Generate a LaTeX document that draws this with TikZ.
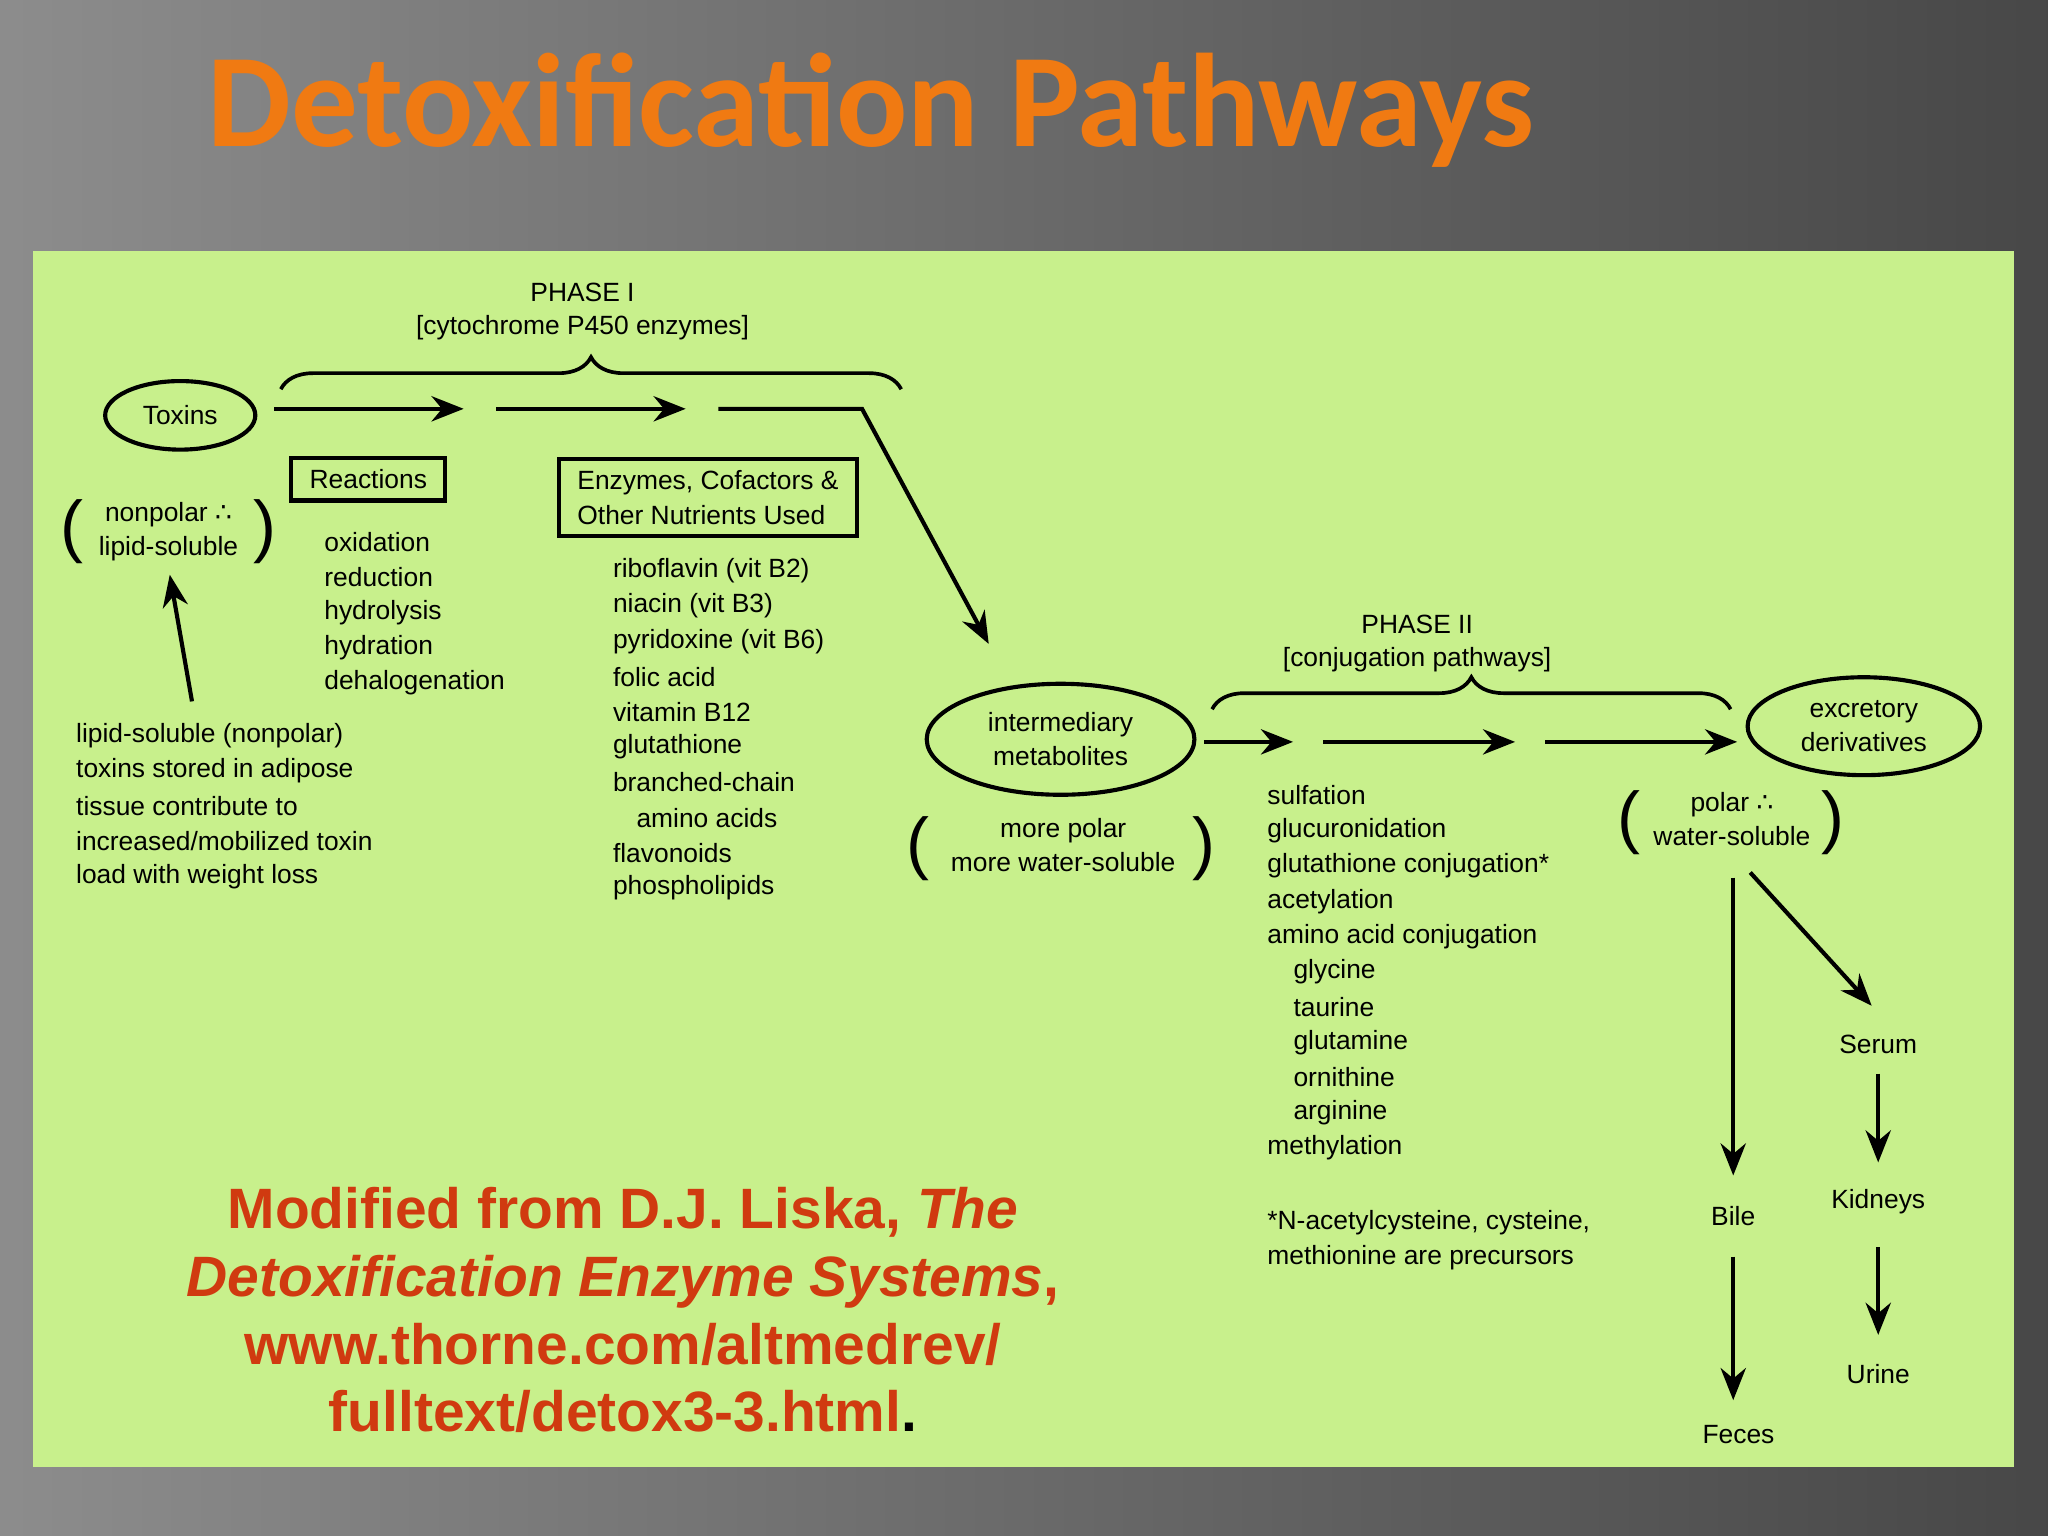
\documentclass[tikz,border=0pt]{standalone}
\usepackage{fontspec}
\setmainfont{Liberation Sans}
\newfontfamily\titlefont{Carlito}
\newfontfamily\symfont{DejaVu Sans}
\usetikzlibrary{arrows.meta,decorations.pathreplacing,shapes.geometric}
\definecolor{panel}{HTML}{C8F08C}
\definecolor{cite}{HTML}{D03A10}
\definecolor{ttl}{HTML}{F07A12}
\newcommand{\thrf}{{\symfont ∴}}
\tikzset{
  x=0.02cm,y=-0.02cm,
  txt/.style={font=\fontsize{11.5}{15}\selectfont,inner sep=0pt},
  lft/.style={txt,anchor=west},
  arr/.style={line width=1.8pt,-{Stealth[length=14pt,width=11pt]}},
  ell/.style={draw,ellipse,line width=1.8pt,inner sep=1pt,align=center,font=\fontsize{11.5}{15}\selectfont},
  boxn/.style={draw,line width=1.8pt,inner xsep=8pt,inner ysep=5pt,align=left,font=\fontsize{11.5}{15}\selectfont},
  par/.style={font=\fontsize{30}{30}\selectfont,inner sep=0pt},
  brc/.style={decorate,decoration={brace,amplitude=14pt},line width=1.6pt},
}
\begin{document}
\begin{tikzpicture}
\useasboundingbox (0,0) rectangle (1568,1176);
\shade[left color=black!45,right color=black!72] (0,0) rectangle (1568,1176);
\fill[panel] (25,192) rectangle (1542,1123);
\node[font=\titlefont\bfseries\fontsize{58}{58}\selectfont,text=ttl] (title) at (667,84) {Detoxification Pathways};

% Phase I
\node[txt] (ph1) at (446,224) {PHASE I};
\node[txt] (ph1b) at (446,251) {[cytochrome P450 enzymes]};
\draw[brc] (215,298) -- (690,298);
\node[ell,minimum width=2.3cm,minimum height=1.05cm] (tox) at (138,318) {Toxins};
\coordinate (a1s) at (210,313); \coordinate (a1e) at (355,313);
\coordinate (a2s) at (380,313); \coordinate (a2e) at (525,313);
\coordinate (a3s) at (550,313); \coordinate (a3m) at (660,313); \coordinate (a3e) at (757,493);
\draw[arr] (a1s) -- (a1e);
\draw[arr] (a2s) -- (a2e);
\draw[arr] (a3s) -- (a3m) -- (a3e);
\node[boxn] (react) at (282,367) {Reactions};
\node[boxn] (enz) at (542,381) {Enzymes, Cofactors \&\\Other Nutrients Used};
\node[txt,align=center] (np) at (129,407) {nonpolar \thrf\\lipid-soluble};
\node[par] (p1) at (55,407) {(}; \node[par] (p2) at (203,407) {)};
\coordinate (ls) at (147,537);
\draw[arr] (ls) -- (130,440);
\foreach \t [count=\i from 0] in {lipid-soluble (nonpolar),toxins stored in adipose,tissue contribute to,increased/mobilized toxin,load with weight loss}
  \node[lft] (l\i) at (58,563+27*\i) {\t};
\foreach \t [count=\i from 0] in {oxidation,reduction,hydrolysis,hydration,dehalogenation}
  \node[lft] (r\i) at (248,415+27*\i) {\t};
\foreach \t [count=\i from 0] in {riboflavin (vit B2),niacin (vit B3),pyridoxine (vit B6),folic acid,vitamin B12,glutathione,branched-chain,\hspace{0.36cm}amino acids,flavonoids,phospholipids}
  \node[lft] (e\i) at (469,437+27*\i) {\t};

% intermediary
\node[ell,minimum width=4.1cm,minimum height=1.7cm] (inter) at (812,566) {intermediary\\metabolites};
\node[txt,align=center] (mp) at (814,647) {more polar\\more water-soluble};
\node[par] (p3) at (703,650) {(}; \node[par] (p4) at (922,650) {)};

% Phase II
\node[txt] (ph2) at (1085,478) {PHASE II};
\node[txt] (ph2b) at (1085,505) {[conjugation pathways]};
\draw[brc] (928,543) -- (1325,543);
\coordinate (b1s) at (922,568); \coordinate (b1e) at (990,568);
\coordinate (b2s) at (1013,568); \coordinate (b2e) at (1160,568);
\coordinate (b3s) at (1183,568); \coordinate (b3e) at (1330,568);
\draw[arr] (b1s) -- (b1e);
\draw[arr] (b2s) -- (b2e);
\draw[arr] (b3s) -- (b3e);
\node[ell,minimum width=3.56cm,minimum height=1.5cm] (exc) at (1427,556) {excretory\\derivatives};
\node[txt,align=center] (pw) at (1326,627) {polar \thrf\\water-soluble};
\node[par] (p5) at (1247,630) {(}; \node[par] (p6) at (1403,630) {)};
\foreach \t [count=\i from 0] in {sulfation,glucuronidation,glutathione conjugation*,acetylation,amino acid conjugation,\hspace{0.4cm}glycine,\hspace{0.4cm}taurine,\hspace{0.4cm}glutamine,\hspace{0.4cm}ornithine,\hspace{0.4cm}arginine,methylation}
  \node[lft] (c\i) at (970,609+27*\i) {\t};
\node[lft] (fn1) at (970,936) {*N-acetylcysteine, cysteine,};
\node[lft] (fn2) at (970,963) {methionine are precursors};

% excretion
\node[txt] (bile) at (1327,931) {Bile};
\node[txt] (feces) at (1331,1098) {Feces};
\node[txt] (serum) at (1438,800) {Serum};
\node[txt] (kid) at (1438,920) {Kidneys};
\node[txt] (urine) at (1438,1052) {Urine};
\coordinate (x1) at (1327,672); \coordinate (x2) at (1340,668);
\coordinate (x3) at (1327,962); \coordinate (x4) at (1438,822); \coordinate (x5) at (1438,955);
\draw[arr] (x1) -- (1327,900);
\draw[arr] (x3) -- (1327,1072);
\draw[arr] (x2) -- (1433,770);
\draw[arr] (x4) -- (1438,890);
\draw[arr] (x5) -- (1438,1022);

% citation
\node[font=\bfseries\fontsize{24.8}{29.6}\selectfont,text=cite,align=center] (cit) at (477,1003)
 {Modified from D.J. Liska, \textit{The}\\\textit{Detoxification Enzyme Systems},\\www.thorne.com/altmedrev/\\fulltext/detox3-3.html\textcolor{black}{.}};
\end{tikzpicture}
\end{document}
